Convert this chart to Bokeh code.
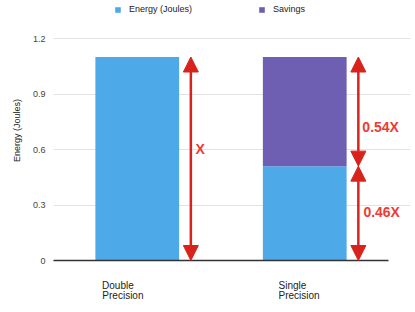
from bokeh.plotting import figure
from bokeh.models import (Range1d, FixedTicker, Legend, LegendItem, Arrow,
                          NormalHead, Label, ColumnDataSource, LinearAxis)
from bokeh.embed import file_html
from bokeh.resources import INLINE

# ---- data ----
categories = ["Double Precision", "Single Precision"]
energy = [1.10, 0.51]
savings = [0.0, 0.59]
ratio_labels = ["X", "0.46X", "0.54X"]
y_ticks = [0, 0.3, 0.6, 0.9, 1.2]
y_tick_labels = ["0", "0.3", "0.6", "0.9", "1.2"]

# ---- layout / style ----
FONT = "Liberation Sans"
BLUE = "#4DA9E8"
PURPLE = "#6F5FB3"
RED_ARROW = "#D8231C"
RED_TEXT = "#EE3B33"

PX = 335.0                      # pixels per x unit
xpos = [0.25, 0.75]
bar_w = 0.25
label_left = [0.146, 0.672]     # left edge of the category text blocks
arrow_dx = 0.16
x_max = (410 - 53) / PX
y_max = 1.2 * 260 / 222.0

total = [e + s for e, s in zip(energy, savings)]
src = ColumnDataSource(dict(x=xpos, energy=energy, savings=savings, total=total))

p = figure(width=415, height=312, x_range=Range1d(0, x_max), y_range=Range1d(0, y_max),
           output_backend="svg", toolbar_location=None,
           min_border_left=53, min_border_right=5, min_border_top=0, min_border_bottom=52)
p.outline_line_color = None

r_energy = p.vbar(x="x", width=bar_w, bottom=0, top="energy", source=src,
                  fill_color=BLUE, line_color=None)
r_sav = p.vbar(x="x", width=bar_w, bottom="energy", top="total", source=src,
               fill_color=PURPLE, line_color=None)

# y axis
ya = p.yaxis[0]
ya.ticker = FixedTicker(ticks=y_ticks)
ya.major_label_overrides = {t: l for t, l in zip(y_ticks, y_tick_labels)}
ya.bounds = (0, 1.2)
ya.axis_line_color = None
ya.major_tick_line_color = None
ya.minor_tick_line_color = None
ya.major_tick_out = 0
ya.minor_tick_out = 0
ya.major_label_standoff = 8
ya.major_label_text_font = FONT
ya.major_label_text_font_size = "9px"
ya.major_label_text_color = "#444444"
ya.axis_label = "Energy (Joules)"
ya.axis_label_text_font = FONT
ya.axis_label_text_font_size = "9px"
ya.axis_label_text_font_style = "normal"
ya.axis_label_text_color = "#222222"
ya.axis_label_standoff = 8

p.ygrid.grid_line_color = "#e2e2e2"
p.ygrid.ticker = FixedTicker(ticks=y_ticks[1:])
p.ygrid.bounds = (0, 1)
p.xgrid.grid_line_color = None

# x axes: one line of each category name per axis (labels are centred on ticks,
# so each tick sits at the left edge of the block plus half the word's width)
words = [c.split(" ") for c in categories]
half_w = [[15.5, 13.9], [20.5, 20.5]]   # half text widths in px per line
xa = p.xaxis[0]
xa2 = LinearAxis()
p.add_layout(xa2, "below")
for i, ax in enumerate([xa, xa2]):
    ticks = [l + h / PX for l, h in zip(label_left, half_w[i])]
    ax.ticker = FixedTicker(ticks=ticks)
    ax.major_label_overrides = {t: w[i] for t, w in zip(ticks, words)}
    ax.major_label_text_font = FONT
    ax.major_label_text_font_size = "10px"
    ax.major_label_text_color = "#222222"
    ax.major_tick_line_color = None
    ax.minor_tick_line_color = None
    ax.major_tick_out = 0
    ax.minor_tick_out = 0
    ax.bounds = (0, 1)
xa.major_label_standoff = 19
xa.axis_line_color = "#333333"
xa.axis_line_width = 1.5
xa2.major_label_standoff = -4
xa2.axis_line_color = None

# legends
for item_label, rend, lx in [("Energy (Joules)", r_energy, 61), ("Savings", r_sav, 205)]:
    leg = Legend(items=[LegendItem(label=item_label, renderers=[rend])],
                 location=(lx, 246), orientation="horizontal",
                 glyph_width=7, glyph_height=7, label_standoff=8,
                 padding=0, margin=0, spacing=0, label_height=9,
                 border_line_color=None, background_fill_alpha=0,
                 label_text_font=FONT, label_text_font_size="9px",
                 label_text_color="#222222")
    p.add_layout(leg)

# arrows
def head():
    return NormalHead(size=15, fill_color=RED_ARROW, line_color=RED_ARROW)

spans = [(xpos[0] + arrow_dx, 0, energy[0]),
         (xpos[1] + arrow_dx, 0, energy[1]),
         (xpos[1] + arrow_dx, energy[1], total[1])]
for ax_, y0, y1 in spans:
    p.add_layout(Arrow(x_start=ax_, y_start=y0, x_end=ax_, y_end=y1,
                       start=head(), end=head(),
                       line_color=RED_ARROW, line_width=2.5))

label_pos = [(0.424, 0.605), (0.925, 0.26), (0.922, 0.719)]
for txt, (lx, ly) in zip(ratio_labels, label_pos):
    p.add_layout(Label(x=lx, y=ly, text=txt, text_color=RED_TEXT,
                       text_font=FONT, text_font_style="bold",
                       text_font_size="14px", text_baseline="middle"))

open("out.html", "w").write(file_html(p, INLINE))
